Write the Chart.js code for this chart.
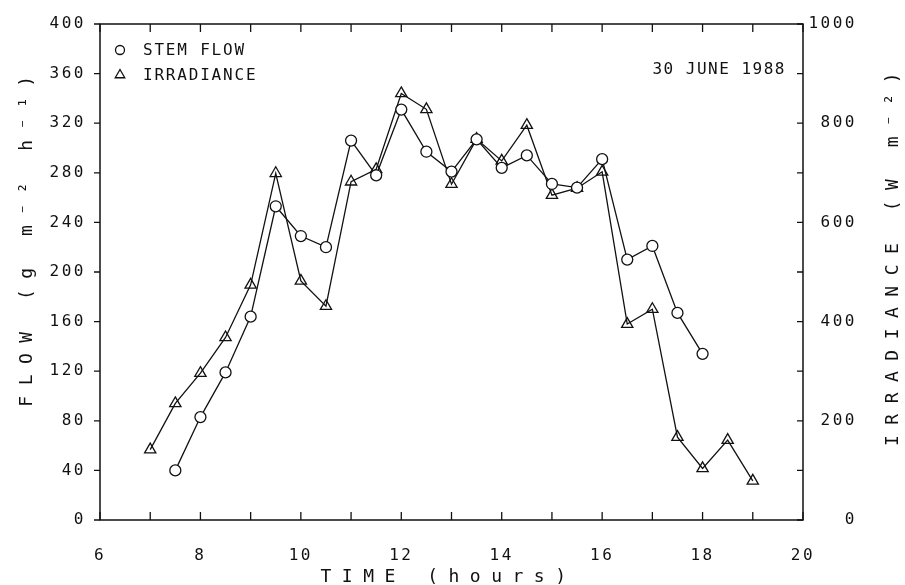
<!DOCTYPE html>
<html>
<head>
<meta charset="utf-8">
<style>
  html, body { margin: 0; padding: 0; background: #fff; }
  #wrap { width: 905px; height: 585px; position: relative; }
</style>
<script src="https://cdn.jsdelivr.net/npm/chart.js@4.4.1/dist/chart.umd.min.js"></script>
</head>
<body>
<div id="wrap"><canvas id="chart"></canvas></div>
<script>
/* ---------- data ---------- */
const stemTimes = [7.5, 8, 8.5, 9, 9.5, 10, 10.5, 11, 11.5, 12, 12.5, 13, 13.5, 14, 14.5, 15, 15.5, 16, 16.5, 17, 17.5, 18];
const stemFlow  = [40, 83, 119, 164, 253, 229, 220, 306, 278, 331, 297, 281, 307, 284, 294, 271, 268, 291, 210, 221, 167, 134];

const irrTimes   = [7, 7.5, 8, 8.5, 9, 9.5, 10, 10.5, 11, 11.5, 12, 12.5, 13, 13.5, 14, 14.5, 15, 15.5, 16, 16.5, 17, 17.5, 18, 18.5, 19];
const irradiance = [142, 235, 296, 368, 474, 699, 482, 431, 682, 707, 860, 828, 677, 768, 724, 796, 655, 669, 702, 395, 425, 167, 104, 161, 79];

const flowTicks = [0, 40, 80, 120, 160, 200, 240, 280, 320, 360, 400];
const irrLabels = [0, 200, 400, 600, 800, 1000];
const timeLabels = [6, 8, 10, 12, 14, 16, 18, 20];

const dateNote = "30 JUNE 1988";
const xTitle = "TIME (hours)";
const yTitle = "FLOW (g m\u207B\u00B2 h\u207B\u00B9)";
const y2Title = "IRRADIANCE (W m\u207B\u00B2)";

/* ---------- style ---------- */
const INK = "#111";
const FONT = '"DejaVu Sans Mono", monospace';
const SPACING = "2.5px";

Chart.defaults.font.family = FONT;
Chart.defaults.font.size = 16;
Chart.defaults.color = INK;

const pairs = (xs, ys) => xs.map((x, i) => ({ x, y: ys[i] }));

// frame, inward ticks, titles, legend and note
const framePlugin = {
    id: "frame",
    beforeLayout(chart) { chart.ctx.letterSpacing = SPACING; },
    beforeDraw(chart) { chart.ctx.letterSpacing = SPACING; },
    afterDraw(chart) {
        const { ctx, chartArea: a, scales } = chart;
        ctx.save();
        ctx.strokeStyle = INK;
        ctx.lineWidth = 1.5;
        ctx.strokeRect(a.left, a.top, a.right - a.left, a.bottom - a.top);

        ctx.lineWidth = 1.3;
        ctx.beginPath();
        scales.x.ticks.forEach(t => {
            const px = scales.x.getPixelForValue(t.value);
            ctx.moveTo(px, a.bottom); ctx.lineTo(px, a.bottom - 8);
            ctx.moveTo(px, a.top); ctx.lineTo(px, a.top + 8);
        });
        scales.y.ticks.forEach(t => {
            const py = scales.y.getPixelForValue(t.value);
            ctx.moveTo(a.left - 6, py); ctx.lineTo(a.left, py);
        });
        scales.y2.ticks.forEach(t => {
            const py = scales.y2.getPixelForValue(t.value);
            ctx.moveTo(a.right - 6, py); ctx.lineTo(a.right, py);
        });
        ctx.stroke();

        // axis titles
        ctx.fillStyle = INK;
        ctx.font = "18px " + FONT;
        ctx.letterSpacing = "10.5px";
        ctx.textAlign = "center";
        ctx.textBaseline = "middle";
        ctx.fillText(xTitle, (a.left + a.right) / 2 - 3, a.bottom + 57);

        ctx.save();
        ctx.translate(27, 236);
        ctx.rotate(-Math.PI / 2);
        ctx.fillText(yTitle, 0, 0);
        ctx.restore();

        ctx.save();
        ctx.translate(893, 254);
        ctx.rotate(-Math.PI / 2);
        ctx.fillText(y2Title, 0, 0);
        ctx.restore();

        // legend
        ctx.font = "16px " + FONT;
        ctx.letterSpacing = "1.8px";
        ctx.textAlign = "left";
        chart.data.datasets.forEach((ds, i) => {
            const y = a.top + 26 + i * 25;
            ctx.fillStyle = "#fff";
            Chart.helpers.drawPoint(ctx, {
                pointStyle: ds.pointStyle,
                radius: ds.pointStyle === "circle" ? 4.5 : 5.5,
                borderWidth: 1.3
            }, a.left + 20, y);
            ctx.fillStyle = INK;
            ctx.fillText(ds.label, a.left + 43, y + 1);
        });

        // date note
        ctx.letterSpacing = "1.5px";
        ctx.textAlign = "right";
        ctx.fillText(dateNote, a.right - 17, a.top + 46);
        ctx.restore();
    }
};

const ctx = document.getElementById("chart").getContext("2d");

new Chart(ctx, {
    type: "line",
    data: {
        datasets: [
            {
                label: "STEM FLOW",
                data: pairs(stemTimes, stemFlow),
                yAxisID: "y",
                borderColor: INK,
                borderWidth: 1.3,
                pointStyle: "circle",
                pointRadius: 5.5,
                pointBorderWidth: 1.3,
                pointBorderColor: INK,
                pointBackgroundColor: "#fff",
                tension: 0,
            },
            {
                label: "IRRADIANCE",
                data: pairs(irrTimes, irradiance),
                yAxisID: "y2",
                borderColor: INK,
                borderWidth: 1.3,
                pointStyle: "triangle",
                pointRadius: 6.5,
                pointBorderWidth: 1.3,
                pointBorderColor: INK,
                pointBackgroundColor: "rgba(255,255,255,0)",
                tension: 0,
            },
        ],
    },
    options: {
        responsive: true,
        maintainAspectRatio: false,
        animation: false,
        events: [],
        layout: { padding: { top: 24, left: 0, right: 48, bottom: 0 } },
        plugins: {
            legend: { display: false },
            tooltip: { enabled: false },
        },
        scales: {
            x: {
                type: "linear",
                min: 6,
                max: 20,
                grid: { display: false },
                border: { display: false },
                ticks: {
                    stepSize: 1,
                    padding: 18,
                    maxRotation: 0,
                    autoSkip: false,
                    callback: v => timeLabels.includes(v) ? String(v) : "",
                },
                afterFit: s => { s.height = 65; },
            },
            y: {
                position: "left",
                min: 0,
                max: 400,
                grid: { display: false },
                border: { display: false },
                ticks: {
                    stepSize: 40,
                    padding: 6,
                    callback: v => flowTicks.includes(v) ? String(v) : "",
                },
                afterFit: s => { s.width = 100; },
            },
            y2: {
                position: "right",
                min: 0,
                max: 1000,
                grid: { display: false },
                border: { display: false },
                ticks: {
                    stepSize: 100,
                    padding: 8,
                    crossAlign: "far",
                    callback: v => irrLabels.includes(v) ? String(v) : "",
                },
                afterFit: s => { s.width = 54; },
            },
        },
    },
    plugins: [framePlugin],
});
</script>
</body>
</html>
